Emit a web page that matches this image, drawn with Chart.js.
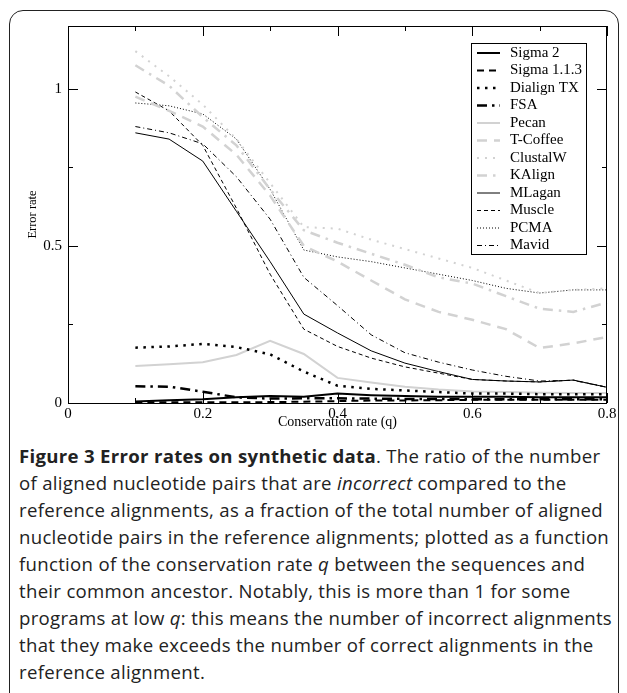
<!DOCTYPE html>
<html>
<head>
<meta charset="utf-8">
<script src="https://cdn.jsdelivr.net/npm/chart.js@4.4.1/dist/chart.umd.min.js"></script>
<style>
  body { margin: 0; background: #fff; width: 627px; height: 693px; overflow: hidden; position: relative; font-family: "Open Sans", sans-serif; }
  #frame { position: absolute; left: 9px; top: 10px; width: 610px; height: 720px; border: 1.5px solid #222; border-radius: 14px; box-sizing: border-box; }
  #wrap { position: absolute; left: 0; top: 0; width: 627px; height: 440px; }
  #caption { position: absolute; left: 19px; top: 442px; font-size: 18.6px; letter-spacing: 0.3px; line-height: 27px; color: #222; white-space: nowrap; }
</style>
</head>
<body>
<div id="frame"></div>
<div id="wrap"><canvas id="errChart" width="627" height="440"></canvas></div>
<div id="caption">
<b>Figure 3 Error rates on synthetic data</b>. The ratio of the number<br>
of aligned nucleotide pairs that are <i>incorrect</i> compared to the<br>
reference alignments, as a fraction of the total number of aligned<br>
nucleotide pairs in the reference alignments; plotted as a function<br>
function of the conservation rate <i>q</i> between the sequences and<br>
their common ancestor. Notably, this is more than 1 for some<br>
programs at low <i>q</i>: this means the number of incorrect alignments<br>
that they make exceeds the number of correct alignments in the<br>
reference alignment.
</div>
<script>
// conservation rates (x) and error rates per program
const rates = [0.1, 0.15, 0.2, 0.25, 0.3, 0.35, 0.4, 0.45, 0.5, 0.55, 0.6, 0.65, 0.7, 0.75, 0.8];

const sigma2   = [0.005, 0.009, 0.012, 0.018, 0.022, 0.02, 0.03, 0.025, 0.022, 0.02, 0.02, 0.02, 0.018, 0.018, 0.018];
const sigma113 = [0.002, 0.002, 0.002, 0.002, 0.003, 0.004, 0.006, 0.008, 0.008, 0.009, 0.01, 0.01, 0.01, 0.01, 0.01];
const dialign  = [0.176, 0.18, 0.188, 0.178, 0.155, 0.1, 0.055, 0.045, 0.04, 0.035, 0.03, 0.03, 0.028, 0.028, 0.028];
const fsa      = [0.053, 0.052, 0.036, 0.018, 0.014, 0.015, 0.015, 0.014, 0.013, 0.013, 0.012, 0.012, 0.012, 0.012, 0.012];
const pecan    = [0.118, 0.123, 0.13, 0.153, 0.198, 0.156, 0.08, 0.065, 0.052, 0.043, 0.037, 0.035, 0.033, 0.032, 0.032];
const tcoffee  = [0.975, 0.93, 0.88, 0.79, 0.66, 0.5, 0.45, 0.39, 0.33, 0.29, 0.265, 0.235, 0.175, 0.19, 0.21];
const clustalw = [1.12, 1.04, 0.95, 0.84, 0.7, 0.56, 0.555, 0.52, 0.49, 0.46, 0.43, 0.39, 0.35, 0.36, 0.365];
const kalign   = [1.075, 1.01, 0.91, 0.82, 0.68, 0.55, 0.51, 0.475, 0.44, 0.4, 0.38, 0.34, 0.3, 0.29, 0.32];
const mlagan   = [0.86, 0.84, 0.77, 0.61, 0.45, 0.283, 0.223, 0.166, 0.127, 0.1, 0.075, 0.07, 0.067, 0.073, 0.05];
const muscle   = [0.99, 0.93, 0.82, 0.62, 0.41, 0.235, 0.18, 0.143, 0.115, 0.095, 0.075, 0.07, 0.067, 0.073, 0.05];
const pcma     = [0.955, 0.946, 0.92, 0.84, 0.68, 0.487, 0.465, 0.45, 0.43, 0.41, 0.39, 0.365, 0.35, 0.36, 0.36];
const mavid    = [0.88, 0.86, 0.825, 0.72, 0.585, 0.4, 0.31, 0.217, 0.16, 0.13, 0.105, 0.085, 0.07, 0.072, 0.05];

const xTicks = [0, 0.2, 0.4, 0.6, 0.8];
const xMinorTicks = [0.1, 0.3, 0.5, 0.7];
const yTicks = [0, 0.5, 1];
const yMinorTicks = [0.25, 0.75];

const GRAY = "#d2d2d2";
const serif = '"Liberation Serif", "Times New Roman", serif';

function series(label, values, color, width, dash) {
    return {
        label: label,
        data: rates.map((r, i) => ({ x: r, y: values[i] })),
        borderColor: color,
        borderWidth: width,
        borderDash: dash,
        pointRadius: 0,
        tension: 0,
        fill: false,
        clip: 4,
    };
}

// axes box with inward ticks on all sides
const framePlugin = {
    id: "frame",
    afterDraw(chart) {
        const { ctx, chartArea: a, scales } = chart;
        ctx.save();
        ctx.strokeStyle = "#000";
        ctx.lineWidth = 1;
        ctx.strokeRect(Math.round(a.left) + 0.5, Math.round(a.top) + 0.5,
            Math.round(a.right - a.left) - 1, Math.round(a.bottom - a.top));
        ctx.beginPath();
        const tickX = (v, len) => {
            const px = Math.round(scales.x.getPixelForValue(v)) + 0.5;
            ctx.moveTo(px, a.bottom); ctx.lineTo(px, a.bottom - len);
            ctx.moveTo(px, a.top); ctx.lineTo(px, a.top + len);
        };
        const tickY = (v, len) => {
            const py = Math.round(scales.y.getPixelForValue(v)) + 0.5;
            ctx.moveTo(a.left, py); ctx.lineTo(a.left + len, py);
            ctx.moveTo(a.right, py); ctx.lineTo(a.right - len, py);
        };
        xTicks.forEach(v => tickX(v, 10));
        xMinorTicks.forEach(v => tickX(v, 5));
        yTicks.forEach(v => tickY(v, 10));
        yMinorTicks.forEach(v => tickY(v, 5));
        ctx.stroke();
        ctx.restore();
    },
};

// legend box in the top right corner
const legendPlugin = {
    id: "boxLegend",
    afterDraw(chart) {
        const ctx = chart.ctx;
        const left = 471.5, top = 43.5, w = 115, h = 211;
        ctx.save();
        ctx.fillStyle = "#fff";
        ctx.fillRect(left, top, w, h);
        ctx.strokeStyle = "#000";
        ctx.lineWidth = 1;
        ctx.strokeRect(left, top, w, h);
        ctx.font = "15px " + serif;
        ctx.textBaseline = "middle";
        chart.data.datasets.forEach((ds, i) => {
            const y = 53 + i * 17.5;
            ctx.beginPath();
            ctx.setLineDash(ds.borderDash || []);
            ctx.strokeStyle = ds.borderColor;
            ctx.lineWidth = ds.borderWidth;
            ctx.moveTo(477, y);
            ctx.lineTo(500, y);
            ctx.stroke();
            ctx.setLineDash([]);
            ctx.fillStyle = "#000";
            ctx.fillText(ds.label, 510, y);
        });
        ctx.restore();
    },
};

new Chart(document.getElementById("errChart"), {
    type: "line",
    data: {
        datasets: [
            series("Sigma 2", sigma2, "#000", 2, []),
            series("Sigma 1.1.3", sigma113, "#000", 2, [7, 5]),
            series("Dialign TX", dialign, "#000", 2.5, [2.5, 5.5]),
            series("FSA", fsa, "#000", 2.5, [10, 5, 2.5, 5]),
            series("Pecan", pecan, GRAY, 2, []),
            series("T-Coffee", tcoffee, GRAY, 2.5, [10, 7]),
            series("ClustalW", clustalw, GRAY, 2, [2, 6]),
            series("KAlign", kalign, GRAY, 2.5, [10, 6, 2.5, 6]),
            series("MLagan", mlagan, "#000", 1, []),
            series("Muscle", muscle, "#000", 1, [4, 3]),
            series("PCMA", pcma, "#000", 1, [1, 2]),
            series("Mavid", mavid, "#000", 1, [5, 3, 1, 3]),
        ],
    },
    options: {
        responsive: false,
        animation: false,
        layout: { padding: { left: 10, right: 20, top: 26, bottom: 0 } },
        plugins: {
            legend: { display: false },
            tooltip: { enabled: false },
        },
        scales: {
            x: {
                type: "linear",
                min: 0,
                max: 0.8,
                grid: { display: false, drawTicks: false },
                border: { display: false },
                afterBuildTicks: s => { s.ticks = xTicks.map(v => ({ value: v })); },
                afterFit: s => { s.height = 37; },
                ticks: {
                    font: { family: serif, size: 15 },
                    color: "#000",
                    padding: 2,
                    maxRotation: 0,
                    callback: v => String(v),
                },
                title: {
                    display: true,
                    text: "Conservation rate (q)",
                    font: { family: serif, size: 14 },
                    color: "#000",
                    padding: { top: 0, bottom: 9 },
                },
            },
            y: {
                min: 0,
                max: 1.2,
                grid: { display: false, drawTicks: false },
                border: { display: false },
                afterBuildTicks: s => { s.ticks = yTicks.map(v => ({ value: v })); },
                afterFit: s => { s.width = 58; },
                ticks: {
                    font: { family: serif, size: 15 },
                    color: "#000",
                    padding: 6,
                    callback: v => String(v),
                },
                title: {
                    display: true,
                    text: "Error rate",
                    font: { family: serif, size: 12.5 },
                    color: "#000",
                    padding: { top: 15, bottom: 0 },
                },
            },
        },
    },
    plugins: [framePlugin, legendPlugin],
});
</script>
</body>
</html>
